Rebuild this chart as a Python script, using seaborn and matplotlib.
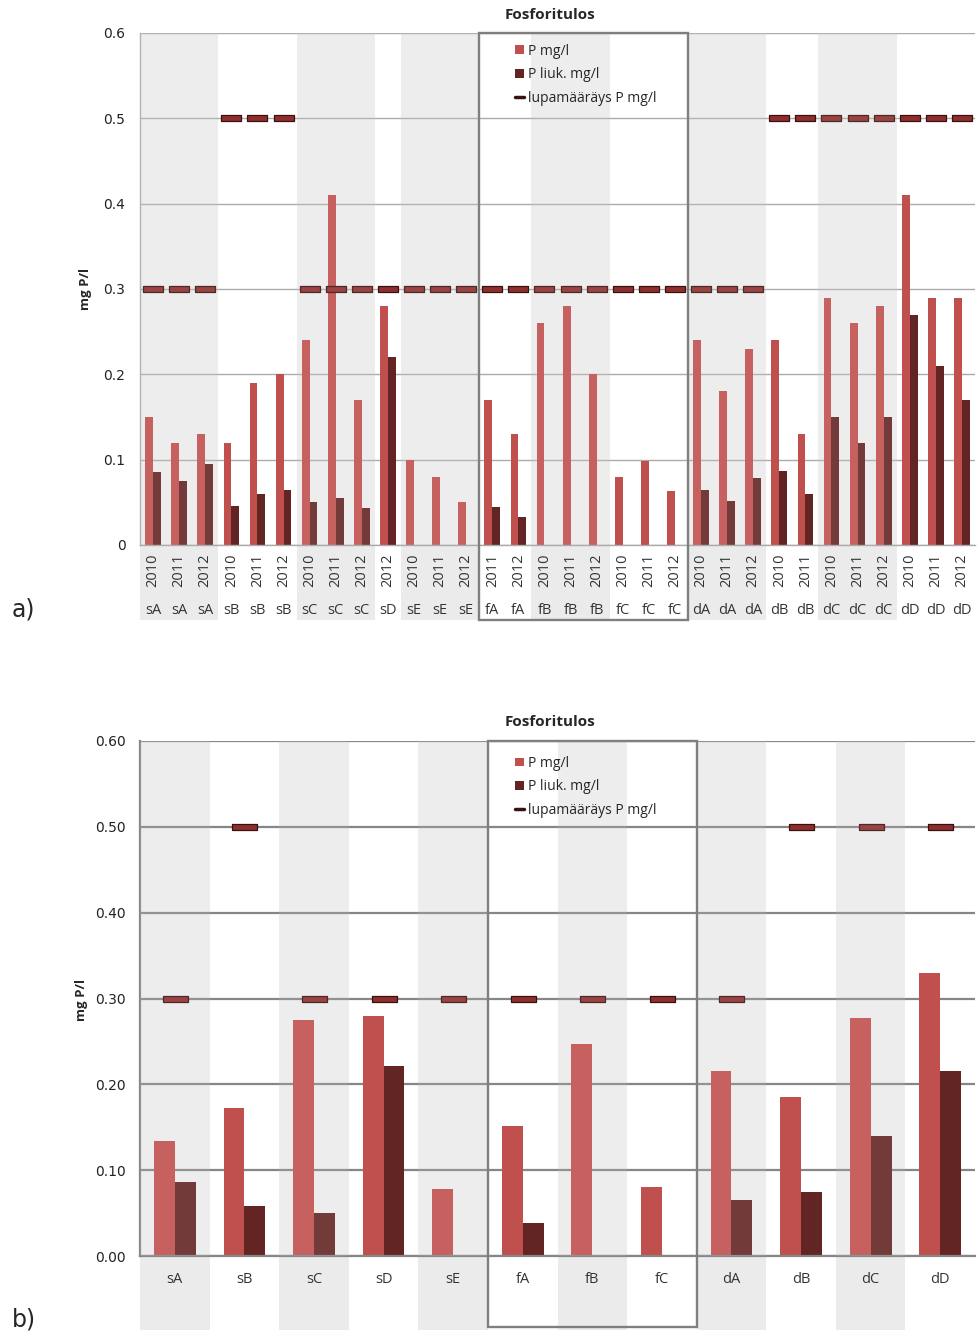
import numpy as np
import pandas as pd
import seaborn as sns
import matplotlib.pyplot as plt
import matplotlib.transforms as mtransforms
from matplotlib.patches import Patch, Rectangle
from matplotlib.lines import Line2D

nan = np.nan

# ---------------- data: panel a (per site and year) ----------------
sites_a = ["sA", "sA", "sA", "sB", "sB", "sB", "sC", "sC", "sC", "sD",
           "sE", "sE", "sE", "fA", "fA", "fB", "fB", "fB", "fC", "fC", "fC",
           "dA", "dA", "dA", "dB", "dB", "dC", "dC", "dC", "dD", "dD", "dD"]
years_a = ["2010", "2011", "2012", "2010", "2011", "2012", "2010", "2011", "2012", "2012",
           "2010", "2011", "2012", "2011", "2012", "2010", "2011", "2012", "2010", "2011", "2012",
           "2010", "2011", "2012", "2010", "2011", "2010", "2011", "2012", "2010", "2011", "2012"]
p_a = [0.15, 0.12, 0.13, 0.12, 0.19, 0.20, 0.24, 0.41, 0.17, 0.28,
       0.10, 0.08, 0.05, 0.17, 0.13, 0.26, 0.28, 0.20, 0.08, 0.098, 0.063,
       0.24, 0.18, 0.23, 0.24, 0.13, 0.29, 0.26, 0.28, 0.41, 0.29, 0.29]
pliuk_a = [0.085, 0.075, 0.095, 0.046, 0.060, 0.065, 0.050, 0.055, 0.043, 0.22,
           nan, nan, nan, 0.044, 0.033, nan, nan, nan, nan, nan, nan,
           0.065, 0.051, 0.078, 0.087, 0.060, 0.15, 0.12, 0.15, 0.27, 0.21, 0.17]
limit_a = [0.3, 0.3, 0.3, 0.5, 0.5, 0.5, 0.3, 0.3, 0.3, 0.3,
           0.3, 0.3, 0.3, 0.3, 0.3, 0.3, 0.3, 0.3, 0.3, 0.3, 0.3,
           0.3, 0.3, 0.3, 0.5, 0.5, 0.5, 0.5, 0.5, 0.5, 0.5, 0.5]
yticks_a = [0, 0.1, 0.2, 0.3, 0.4, 0.5, 0.6]
ytick_labels_a = ["0", "0.1", "0.2", "0.3", "0.4", "0.5", "0.6"]

# ---------------- data: panel b (per site) ----------------
sites_b = ["sA", "sB", "sC", "sD", "sE", "fA", "fB", "fC", "dA", "dB", "dC", "dD"]
p_b = [0.134, 0.172, 0.275, 0.280, 0.078, 0.151, 0.247, 0.080, 0.216, 0.185, 0.277, 0.330]
pliuk_b = [0.086, 0.058, 0.050, 0.221, nan, 0.039, nan, nan, 0.065, 0.074, 0.140, 0.216]
limit_b = [0.3, 0.5, 0.3, 0.3, 0.3, 0.3, 0.3, 0.3, 0.3, 0.5, 0.5, 0.5]
yticks_b = [0, 0.1, 0.2, 0.3, 0.4, 0.5, 0.6]
ytick_labels_b = ["0.00", "0.10", "0.20", "0.30", "0.40", "0.50", "0.60"]

series_names = ["P mg/l", "P liuk. mg/l", "lupamääräys P mg/l"]
title = "Fosforitulos"
ylabel = "mg P/l"
boxed_sites = ["fA", "fB", "fC"]

# ---------------- style ----------------
sns.set_style("white")
plt.rcParams['font.family'] = ['Open Sans', 'DejaVu Sans']

C_P = "#C0504D"
C_PL = "#632523"
C_LIM = "#8E2F2D"
C_LIM_EDGE = "#3A1111"
C_BAND = "#EBEBEB"

fig = plt.figure(figsize=(9.8, 13.35), dpi=100)
ax1 = fig.add_axes([140 / 980, 1 - 545 / 1335, 835 / 980, 512 / 1335])
ax2 = fig.add_axes([140 / 980, 1 - 1256 / 1335, 835 / 980, 515 / 1335])

dash = [(-2, -0.55), (2, -0.55), (2, 0.55), (-2, 0.55), (-2, -0.55)]


def site_runs(sites):
    runs = []
    start = 0
    for i in range(1, len(sites) + 1):
        if i == len(sites) or sites[i] != sites[start]:
            runs.append((sites[start], start, i - 1))
            start = i
    return runs


def draw_panel(ax, keys, sites, p, pl, lim, yticks, yticklabels, band_bottom,
               grid_color, grid_lw, dash_size, box_bottom):
    n = len(keys)
    df = pd.DataFrame({
        "key": list(keys) * 2,
        "series": [series_names[0]] * n + [series_names[1]] * n,
        "value": list(p) + list(pl),
    })
    sns.barplot(data=df, x="key", y="value", hue="series", order=list(keys),
                hue_order=series_names[:2], palette=[C_P, C_PL], saturation=1,
                width=0.6, errorbar=None, linewidth=0, legend=False, ax=ax)
    ax.set_facecolor("none")
    ax.set_xlim(-0.5, n - 0.5)
    ax.set_ylim(0, 0.6)
    ax.set_xlabel("")
    trans = mtransforms.blended_transform_factory(ax.transData, ax.transAxes)

    # alternating site bands
    order = list(dict.fromkeys(sites))
    banded = set(order[::2])
    for s, a, b in site_runs(sites):
        if s in banded:
            ax.add_patch(Rectangle((a - 0.5, band_bottom), b - a + 1, 1 - band_bottom,
                                   transform=trans, facecolor=C_BAND, edgecolor="none",
                                   zorder=0, clip_on=False))
            ax.axvspan(a - 0.5, b + 0.5, color="white", alpha=0.1, lw=0, zorder=4)

    # permit limit markers
    ax.scatter(np.arange(n), lim, marker=dash, s=dash_size ** 2, c=C_LIM,
               edgecolors=C_LIM_EDGE, linewidths=0.9, zorder=3, clip_on=False)

    # grid & spines
    ax.yaxis.grid(True, color=grid_color, lw=grid_lw, zorder=0.5)
    ax.set_axisbelow(True)
    for sp in ["top", "right"]:
        ax.spines[sp].set_visible(False)
    for sp in ["left", "bottom"]:
        ax.spines[sp].set_color(grid_color)
        ax.spines[sp].set_linewidth(grid_lw)
        ax.spines[sp].set_zorder(2)

    ax.set_yticks(yticks, labels=yticklabels)
    ax.tick_params(axis="y", length=0, pad=10.5, labelsize=10, labelcolor="#222222")
    for lbl in ax.get_yticklabels():
        lbl.set_fontfamily("DejaVu Sans")

    ax.set_ylabel(ylabel, fontweight="bold", fontsize=9.5)

    # box around fA..fC
    idx = [i for i, s in enumerate(sites) if s in boxed_sites]
    ax.add_patch(Rectangle((min(idx) - 0.5, box_bottom), max(idx) - min(idx) + 1,
                           1 - box_bottom, transform=trans, fill=False,
                           edgecolor="#7F7F7F", lw=1.7, zorder=6, clip_on=False))

    handles = [Patch(facecolor=C_P, edgecolor="none"),
               Patch(facecolor=C_PL, edgecolor="none"),
               Line2D([0], [0], color=C_LIM_EDGE, lw=2.5)]
    return handles, trans


# ---------------- panel a ----------------
n_a = len(sites_a)
keys_a = [f"{s} {y}" for s, y in zip(sites_a, years_a)]
h, tr1 = draw_panel(ax1, keys_a, sites_a, p_a, pliuk_a, limit_a, yticks_a, ytick_labels_a,
                    band_bottom=-0.146, grid_color="#ABABAB", grid_lw=1.0,
                    dash_size=14.5, box_bottom=-0.146)
ax1.set_xticks([])
ax1.set_xticks(np.arange(-0.5, n_a, 1), minor=True)
ax1.tick_params(axis="x", which="minor", length=54, width=1, color="#C4C4C4", direction="out")
for i, (s, y) in enumerate(zip(sites_a, years_a)):
    ax1.text(i, -0.049, y, rotation=90, transform=tr1, ha="center", va="center",
             fontsize=10.5, color="#333333", zorder=7)
    ax1.text(i, -0.127, s, transform=tr1, ha="center", va="center",
             fontsize=10.5, color="#333333", zorder=7)
ax1.yaxis.set_label_coords((92 - 140) / 835, 0.5)
ax1.legend(h, series_names, loc="upper left", bbox_to_anchor=(0.443, 0.99),
           frameon=False, fontsize=10, handlelength=0.6, handleheight=0.6,
           handletextpad=0.3, labelspacing=0.62, borderaxespad=0)

# ---------------- panel b ----------------
n_b = len(sites_b)
h, tr2 = draw_panel(ax2, sites_b, sites_b, p_b, pliuk_b, limit_b, yticks_b, ytick_labels_b,
                    band_bottom=-0.144, grid_color="#868686", grid_lw=1.6,
                    dash_size=18, box_bottom=-0.138)
ax2.set_xticks([])
ax2.set_xticks(np.arange(-0.5, n_b, 1), minor=True)
ax2.tick_params(axis="x", which="minor", length=4, width=1.2, color="#868686", direction="out")
for i, s in enumerate(sites_b):
    ax2.text(i, -0.045, s, transform=tr2, ha="center", va="center",
             fontsize=10.5, color="#333333", zorder=7)
ax2.yaxis.set_label_coords((88 - 140) / 835, 0.497)
ax2.legend(h, series_names, loc="upper left", bbox_to_anchor=(0.443, 0.982),
           frameon=False, fontsize=10, handlelength=0.6, handleheight=0.6,
           handletextpad=0.3, labelspacing=0.62, borderaxespad=0)

# ---------------- titles & panel letters ----------------
fig.text(550 / 980, 1 - 15 / 1335, title, ha="center", va="center",
         fontsize=11, fontweight="bold")
fig.text(550 / 980, 1 - 722 / 1335, title, ha="center", va="center",
         fontsize=11, fontweight="bold")
fig.text(12 / 980, 1 - 610 / 1335, "a)", fontsize=17, va="center", family="DejaVu Sans")
fig.text(12 / 980, 1 - 1320 / 1335, "b)", fontsize=17, va="center", family="DejaVu Sans")

fig.savefig("out.png", dpi=100)
